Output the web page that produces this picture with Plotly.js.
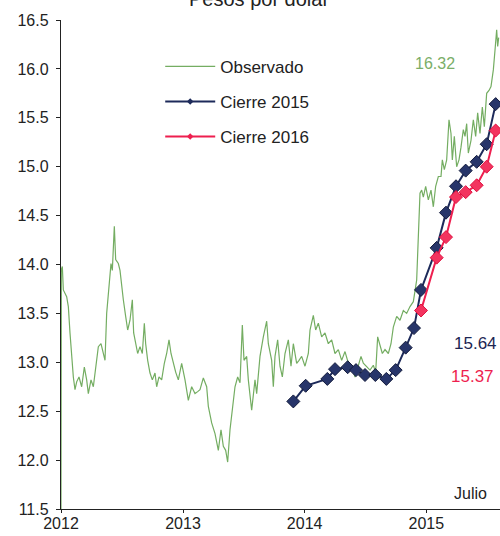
<!DOCTYPE html>
<html>
<head>
<meta charset="utf-8">
<script src="https://cdn.plot.ly/plotly-3.0.1.min.js"></script>
<style>html,body{margin:0;padding:0;background:#fff;}#chart{width:500px;height:536px;}</style>
</head>
<body>
<div id="chart"></div>
<script>
// Observado: tipo de cambio pesos por dólar
const obsDates = [
'2012-01-01','2012-01-02','2012-01-05','2012-01-08','2012-01-18','2012-01-23','2012-01-28','2012-02-02','2012-02-07','2012-02-12','2012-02-17','2012-02-24',
'2012-03-03','2012-03-11','2012-03-18','2012-03-23','2012-03-31','2012-04-07','2012-04-14','2012-04-22','2012-04-30','2012-05-07','2012-05-12','2012-05-17',
'2012-05-24','2012-05-30','2012-06-03','2012-06-09','2012-06-13','2012-06-21','2012-06-26','2012-07-01','2012-07-06','2012-07-13','2012-07-19','2012-07-26',
'2012-08-02','2012-08-06','2012-08-12','2012-08-18','2012-08-25','2012-09-01','2012-09-07','2012-09-11','2012-09-17','2012-09-24','2012-10-01','2012-10-09',
'2012-10-14','2012-10-21','2012-10-29','2012-11-06','2012-11-13','2012-11-20','2012-11-26','2012-12-03','2012-12-10','2012-12-18','2012-12-28',
'2013-01-07','2013-01-17','2013-01-27','2013-02-06','2013-02-14','2013-02-21','2013-03-03','2013-03-13','2013-03-18','2013-03-28','2013-04-07','2013-04-17',
'2013-04-25','2013-05-02','2013-05-09','2013-05-15','2013-05-22','2013-05-29','2013-06-06','2013-06-14','2013-06-21','2013-06-28','2013-07-03','2013-07-11',
'2013-07-16','2013-07-26','2013-08-05','2013-08-10','2013-08-20','2013-08-30','2013-09-09','2013-09-14','2013-09-24','2013-09-29','2013-10-04','2013-10-12',
'2013-10-19','2013-10-26','2013-11-03','2013-11-13','2013-11-21','2013-11-28','2013-12-08','2013-12-15','2013-12-23',
'2014-01-02','2014-01-12','2014-01-17','2014-01-27','2014-02-03','2014-02-11','2014-02-21','2014-03-03','2014-03-13','2014-03-23','2014-04-02','2014-04-12',
'2014-04-22','2014-05-02','2014-05-12','2014-05-22','2014-06-01','2014-06-11','2014-06-19','2014-06-26','2014-07-06','2014-07-16','2014-07-26','2014-08-02',
'2014-08-08','2014-08-15','2014-08-22','2014-08-30','2014-09-09','2014-09-17','2014-09-24','2014-10-04','2014-10-14','2014-10-24','2014-11-03','2014-11-13',
'2014-11-23','2014-12-03','2014-12-08','2014-12-13','2014-12-18','2014-12-23','2014-12-30',
'2015-01-07','2015-01-15','2015-01-22','2015-01-29','2015-02-06','2015-02-14','2015-02-18','2015-02-24','2015-03-03','2015-03-10','2015-03-16','2015-03-20',
'2015-03-26','2015-04-02','2015-04-09','2015-04-15','2015-04-22','2015-04-27','2015-05-02','2015-05-07','2015-05-15','2015-05-22','2015-05-29','2015-06-04',
'2015-06-11','2015-06-18','2015-06-24','2015-07-01','2015-07-08','2015-07-14','2015-07-21','2015-07-26','2015-07-31','2015-08-03','2015-08-06'
];
const obsValues = [
11.50,13.95,13.98,13.74,13.67,13.57,13.30,13.06,12.85,12.72,12.80,12.85,
12.75,12.95,12.82,12.68,12.82,12.75,12.92,13.16,13.19,13.09,13.02,13.50,
13.77,14.01,13.94,14.39,14.05,14.01,13.94,13.77,13.64,13.47,13.33,13.43,
13.64,13.30,13.19,13.09,13.16,13.09,13.40,13.19,13.02,12.89,12.82,12.89,
12.75,12.85,12.82,12.99,13.09,13.23,13.09,12.99,12.90,12.82,12.99,
12.82,12.61,12.75,12.68,12.70,12.72,12.84,12.75,12.55,12.38,12.27,12.10,
12.31,12.14,12.10,11.98,12.31,12.55,12.75,12.85,12.79,13.38,13.02,13.06,
12.82,12.51,12.82,12.68,13.06,13.26,13.42,13.19,13.02,12.75,13.06,13.23,
12.96,12.85,13.09,13.23,12.96,13.19,12.99,13.02,13.06,
12.96,13.09,13.33,13.48,13.33,13.40,13.26,13.30,13.19,13.23,13.09,13.13,
13.02,13.11,12.99,12.96,12.85,12.96,13.06,12.99,12.95,12.92,12.97,12.90,
13.26,13.16,13.09,13.13,13.09,13.19,13.36,13.47,13.43,13.53,13.50,13.57,
13.62,13.84,14.28,14.73,14.76,14.69,14.80,
14.66,14.76,14.59,14.80,14.90,14.90,15.07,14.97,15.07,15.48,15.34,15.07,
15.31,15.00,15.07,15.20,15.38,15.31,15.44,15.14,15.27,15.48,15.31,15.55,
15.34,15.61,15.41,15.75,15.78,15.82,15.99,16.19,16.40,16.23,16.32
];

// Encuesta: expectativa de cierre 2015
const c15Dates = ['2013-11-28','2014-01-04','2014-03-10','2014-04-02','2014-05-10','2014-06-04','2014-07-01','2014-08-01','2014-09-03','2014-10-01',
'2014-10-31','2014-11-25','2014-12-16','2015-02-01','2015-03-01','2015-03-31','2015-04-29','2015-06-01','2015-07-01','2015-07-28'];
const c15Values = [12.60,12.76,12.83,12.93,12.95,12.92,12.87,12.87,12.83,12.92,
13.15,13.35,13.74,14.17,14.53,14.80,14.96,15.05,15.23,15.64];

// Encuesta: expectativa de cierre 2016
const c16Dates = ['2014-12-16','2015-02-01','2015-03-01','2015-03-31','2015-04-29','2015-06-01','2015-07-01','2015-07-28'];
const c16Values = [13.53,14.07,14.28,14.69,14.74,14.81,15.00,15.37];

const yTicks = [11.5,12.0,12.5,13.0,13.5,14.0,14.5,15.0,15.5,16.0,16.5];
const xTickVals = ['2012-01-01','2013-01-01','2014-01-01','2015-01-01'];
const xTickText = ['2012','2013','2014','2015'];

const GREEN = '#74ad62', NAVY = '#1d2a5a', RED = '#ee1f4f';
const FONT = 'Liberation Sans, Arial, sans-serif';

const traces = [
  {x: obsDates, y: obsValues, type: 'scatter', mode: 'lines', name: 'Observado',
   line: {color: GREEN, width: 1.2}, showlegend: false},
  {x: c15Dates, y: c15Values, type: 'scatter', mode: 'lines+markers', name: 'Cierre 2015',
   line: {color: NAVY, width: 2}, marker: {symbol: 'diamond', size: 10, color: '#27356a', line: {color: '#141c3c', width: 1}}, showlegend: false},
  {x: c16Dates, y: c16Values, type: 'scatter', mode: 'lines+markers', name: 'Cierre 2016',
   line: {color: RED, width: 2}, marker: {symbol: 'diamond', size: 10, color: '#f3345f', line: {color: '#e0103f', width: 1}}, showlegend: false},
  // legend entries
  {x: [null], y: [null], type: 'scatter', mode: 'lines', name: 'Observado', legendgroup: 'a',
   line: {color: GREEN, width: 1.3}},
  {x: [null], y: [null], type: 'scatter', mode: 'lines+markers', name: 'Cierre 2015', legendgroup: 'b',
   line: {color: NAVY, width: 2}, marker: {symbol: 'diamond', size: 5, color: NAVY}},
  {x: [null], y: [null], type: 'scatter', mode: 'lines+markers', name: 'Cierre 2016', legendgroup: 'c',
   line: {color: RED, width: 2}, marker: {symbol: 'diamond', size: 5, color: RED}}
];

const layout = {
  width: 500, height: 536,
  margin: {l: 61, r: 0, t: 20, b: 27, pad: 0},
  paper_bgcolor: '#ffffff', plot_bgcolor: '#ffffff',
  font: {family: FONT, size: 16, color: '#222'},
  showlegend: true,
  legend: {x: 0.226, y: 0.941, xanchor: 'left', yanchor: 'top', bgcolor: 'rgba(0,0,0,0)',
           font: {family: FONT, size: 17, color: '#222'}, itemwidth: 50, tracegroupgap: 10},
  xaxis: {type: 'date', range: ['2012-01-01', '2015-08-10'], tickvals: xTickVals, ticktext: xTickText,
          showgrid: false, zeroline: false, showline: true, linecolor: '#222', linewidth: 1.2,
          ticks: 'outside', ticklen: 3, tickcolor: '#222', tickfont: {size: 16, color: '#222'},
          ticklabelstandoff: -3, layer: 'below traces'},
  yaxis: {range: [11.5, 16.5], tickvals: yTicks, tickformat: '.1f',
          showgrid: false, zeroline: false, showline: true, linecolor: '#222', linewidth: 1.2,
          ticks: 'outside', ticklen: 4, tickcolor: '#222', tickfont: {size: 16, color: '#222'},
          ticklabelstandoff: 4, layer: 'below traces'},
  annotations: [
    {text: 'Pesos por dólar', xref: 'paper', yref: 'paper', x: 0.451, y: 1.043, xanchor: 'center', yanchor: 'middle',
     showarrow: false, font: {size: 20, color: '#222'}},
    {text: '16.32', xref: 'paper', yref: 'paper', x: 0.852, y: 0.912, xanchor: 'center', yanchor: 'middle',
     showarrow: false, font: {size: 16, color: '#7aae68'}},
    {text: '15.64', xref: 'paper', yref: 'paper', x: 0.945, y: 0.339, xanchor: 'center', yanchor: 'middle',
     showarrow: false, font: {size: 17, color: '#1c2552'}},
    {text: '15.37', xref: 'paper', yref: 'paper', x: 0.938, y: 0.270, xanchor: 'center', yanchor: 'middle',
     showarrow: false, font: {size: 17, color: '#ee1f4f'}},
    {text: 'Julio', xref: 'paper', yref: 'paper', x: 0.932, y: 0.031, xanchor: 'center', yanchor: 'middle',
     showarrow: false, font: {size: 16, color: '#222'}}
  ]
};

Plotly.newPlot('chart', traces, layout, {staticPlot: true, displayModeBar: false});
</script>
</body>
</html>
